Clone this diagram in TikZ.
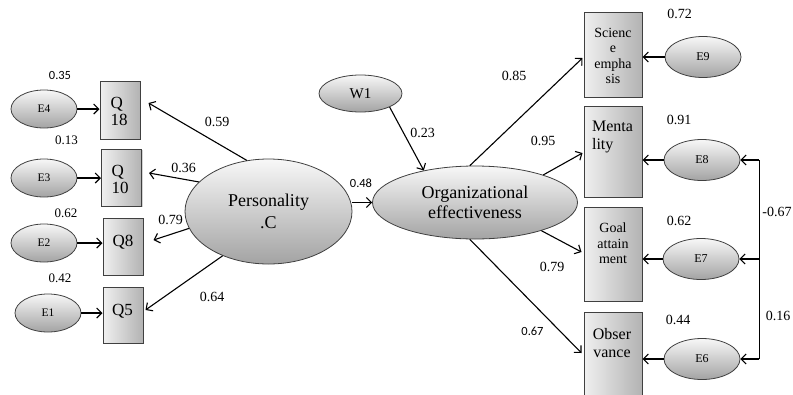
\documentclass[tikz,border=0pt]{standalone}
\usepackage{fontspec}
\setmainfont{Liberation Serif}
\newfontfamily\calibfont{Carlito}
\usetikzlibrary{calc,arrows.meta,shapes.geometric,shadows}
\tikzset{
latnode/.style={ellipse,draw=black!75,line width=0.8pt,top color=black!3,bottom color=black!36,inner sep=0pt},
obsbox/.style={rectangle,draw=black!75,line width=1pt,left color=black!6,right color=black!30,inner sep=0pt,
  drop shadow={shadow xshift=1.2pt,shadow yshift=-1.2pt,opacity=0.35}},
boxtxt/.style={inner sep=0pt},
pth/.style={line width=1.1pt,-{Straight Barb[length=5pt,width=10pt,line width=1.1pt]}},
coef/.style={inner sep=0pt,font=\fontsize{14}{14}\selectfont},
coefs/.style={inner sep=0pt,font=\calibfont\fontsize{12.5}{12.5}\selectfont}
}
\begin{document}
\begin{tikzpicture}[x=1pt,y=-1pt]
\useasboundingbox (0,0) rectangle (793,394);
\node[latnode,minimum width=167pt,minimum height=105pt,align=center,font=\fontsize{18}{22}\selectfont] (pers) at (268.5,211.5) {Personality\\.C};
\node[latnode,minimum width=205pt,minimum height=73pt,align=center,font=\fontsize{18}{20}\selectfont] (org) at (475,202.5) {Organizational\\effectiveness};
\node[latnode,minimum width=83pt,minimum height=37pt,font=\fontsize{15}{15}\selectfont] (w1) at (360.5,93.5) {W1};
\foreach \nm/\xx/\yy/\lb in {e4/44/109/E4,e3/44/178/E3,e2/44/243/E2,e1/48/313/E1}
  {\node[latnode,minimum width=66pt,minimum height=38pt,font=\fontsize{11.5}{11.5}\selectfont] (\nm) at (\xx,\yy) {\lb};}
\foreach \nm/\xx/\yy/\lb in {e9/703/57/E9,e8/702/160/E8,e7/701/259/E7,e6/702/359/E6}
  {\node[latnode,minimum width=76pt,minimum height=41pt,font=\fontsize{12}{12}\selectfont] (\nm) at (\xx,\yy) {\lb};}
\foreach \nm/\xx/\yy/\hh in {q18/120/110/58,q10/121.5/177.5/57,q8/123/246.5/57,q5/123/315/56}
  {\node[obsbox,minimum width=40pt,minimum height=\hh pt] (\nm) at (\xx,\yy) {};}
\foreach \nm/\yy/\hh in {sci/54.5/85,ment/151.5/91,goal/254/94,obs/356/88}
  {\node[obsbox,minimum width=58pt,minimum height=\hh pt] (\nm) at (613,\yy) {};}
\node[boxtxt,align=left,font=\fontsize{17}{17}\selectfont] (q18t) at (119,111.5) {Q\\18};
\node[boxtxt,align=left,font=\fontsize{17}{17}\selectfont] (q10t) at (120,179.5) {Q\\10};
\node[boxtxt,font=\fontsize{17}{17}\selectfont] (q8t) at (123,242) {Q8};
\node[boxtxt,font=\fontsize{17}{17}\selectfont] (q5t) at (122.5,311) {Q5};
\node[boxtxt,align=center,font=\fontsize{14}{15.3}\selectfont] (scit) at (613,56) {Scienc\\e\\empha\\sis};
\node[boxtxt,align=left,font=\fontsize{16}{18}\selectfont] (mentt) at (612.5,137) {Menta\\lity};
\node[boxtxt,align=center,font=\fontsize{14}{15.5}\selectfont] (goalt) at (613,243.5) {Goal\\attain\\ment};
\node[boxtxt,align=center,font=\fontsize{16}{18}\selectfont] (obst) at (612,343) {Obser\\vance};
\foreach \ee/\qq in {e4/q18,e3/q10,e2/q8,e1/q5}{\draw[pth] (\ee.east) -- (\ee.east -| \qq.west);}
\foreach \ee/\bb in {e9/sci,e8/ment,e7/goal,e6/obs}{\draw[pth] (\ee.west) -- (\ee.west -| \bb.east);}
\draw[pth] (pers.113) -- ($(q18.east)+(8,-7)$);
\draw[pth] (pers.157) -- ($(q10.east)+(7,-4.5)$);
\draw[pth] (pers.192) -- ($(q8.east)+(10,-6.5)$);
\draw[pth] (pers.224) -- ($(q5.east)+(2,-5)$);
\draw[pth] (pers.east |- org.west) -- (org.west);
\draw[pth] (w1.-25) -- (org.148);
\draw[pth] (org.98) -- ($(sci.west)+(-1,3.5)$);
\draw[pth] (org.22) -- ($(ment.west)+(-1,1.5)$);
\draw[pth] (org.-23) -- ($(goal.west)+(-2,-2)$);
\draw[pth] (org.-98) -- ($(obs.west)+(-2,-3)$);
\coordinate (cvt) at ($(e8.east)+(19,0)$);
\coordinate (cvb) at (cvt |- e6.east);
\draw[line width=1.1pt] (cvt) -- (cvb);
\draw[pth] (cvt) -- (e8.east);
\draw[pth] (cvb) -- (e6.east);
\draw[pth] (cvt |- e7.east) -- (e7.east);
\foreach \nm/\xx/\yy/\vl in {l59/217/122/0.59,l36/183.5/168/0.36,l79a/170.5/220/0.79,l64/212/297/0.64,
  l23/422.5/133/0.23,l85/514/76/0.85,l95/543/141/0.95,l79b/552/267/0.79,l72/679.5/14/0.72,l91/679/120/0.91,
  l62b/679/221/0.62,l44/678/320/0.44,l67b/777/212/-0.67,l16/778/316/0.16}
  {\node[coef] (\nm) at (\xx,\yy) {\vl};}
\foreach \nm/\xx/\yy/\vl in {l13/66.5/140/0.13,l62a/66/213/0.62,l42/60/278/0.42}
  {\node[coef,font=\fontsize{13}{13}\selectfont] (\nm) at (\xx,\yy) {\vl};}
\foreach \nm/\xx/\yy/\vl in {l35/60/75/0.35,l48/361/183/0.48,l67a/532.5/331/0.67}
  {\node[coefs] (\nm) at (\xx,\yy) {\vl};}
\end{tikzpicture}
\end{document}
